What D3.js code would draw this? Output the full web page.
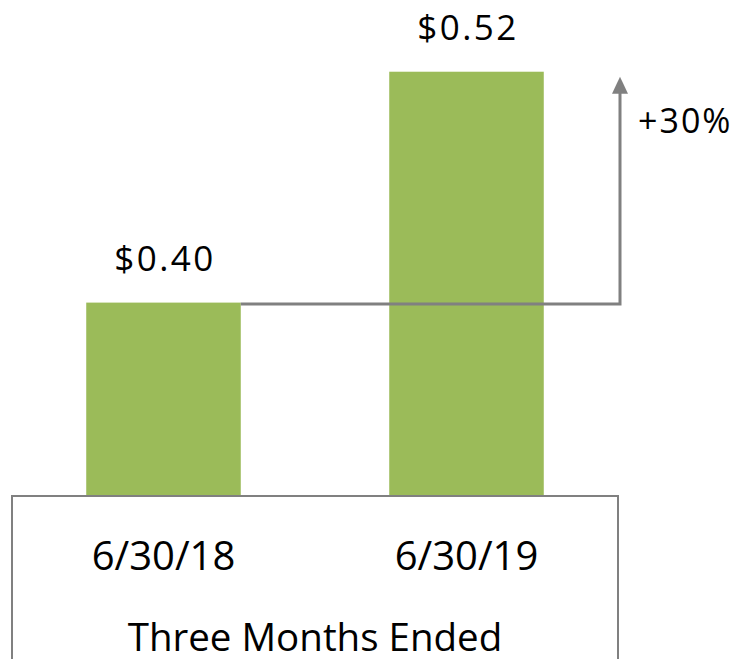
<!DOCTYPE html>
<html>
<head>
<meta charset="utf-8">
<script src="https://cdn.jsdelivr.net/npm/d3@7"></script>
<style>
  html, body { margin: 0; padding: 0; background: #fff; }
  svg { display: block; font-family: "Open Sans", sans-serif; }
</style>
</head>
<body>
<script>
'use strict';

// data
const categories = ['6/30/18', '6/30/19'];
const values = [0.40, 0.52];
const valueLabels = ['$0.40', '$0.52'];
const changeLabel = '+30%';
const axisTitle = 'Three Months Ended';

const width = 735, height = 659;
const barColor = '#9bbb59';
const lineColor = '#808080';

const svg = d3.select('body').append('svg')
  .attr('width', width)
  .attr('height', height);

// box of the category axis goes from 12 to 618
const x = d3.scaleBand()
  .domain(categories)
  .range([12, 618])
  .paddingInner(0.49)
  .paddingOuter(0.245);

// value axis does not start at zero
const y = d3.scaleLinear()
  .domain([0.30, 0.55])
  .range([495, 14]);

// bars
svg.append('g').selectAll('rect')
  .data(values)
  .enter()
  .append('rect')
  .attr('x', (d, i) => x(categories[i]))
  .attr('y', d => y(d))
  .attr('width', x.bandwidth())
  .attr('height', d => y.range()[0] - y(d))
  .attr('fill', barColor);

// value labels
svg.append('g').selectAll('text')
  .data(values)
  .enter()
  .append('text')
  .attr('x', (d, i) => x(categories[i]) + x.bandwidth() / 2 + 1.5)
  .attr('y', d => y(d) - 32)
  .attr('text-anchor', 'middle')
  .attr('font-size', 35)
  .attr('letter-spacing', 2.5)
  .attr('fill', '#000')
  .text((d, i) => valueLabels[i]);

// category axis box
const boxTop = y.range()[0] + 1;
const [bx0, bx1] = x.range();
svg.append('path')
  .attr('d', `M${bx0},${height}V${boxTop}H${bx1}V${height}`)
  .attr('fill', 'none')
  .attr('stroke', lineColor)
  .attr('stroke-width', 2);

svg.append('g').selectAll('text')
  .data(categories)
  .enter()
  .append('text')
  .attr('x', d => x(d) + x.bandwidth() / 2)
  .attr('y', 570)
  .attr('text-anchor', 'middle')
  .attr('font-size', 40)
  .text(d => d);

svg.append('text')
  .attr('x', (bx0 + bx1) / 2)
  .attr('y', 651)
  .attr('text-anchor', 'middle')
  .attr('font-size', 38.5)
  .text(axisTitle);

// growth arrow: from top of first bar across to the right, then up
const arrowX = 620;
const fromY = y(values[0]) + 1.5;
const tipY = y(values[1]) + 5;
const headH = 17;

svg.append('path')
  .attr('d', `M${x(categories[0]) + x.bandwidth()},${fromY}H${arrowX}V${tipY + headH - 1}`)
  .attr('fill', 'none')
  .attr('stroke', lineColor)
  .attr('stroke-width', 3);

svg.append('path')
  .attr('d', `M${arrowX},${tipY}L${arrowX + 8},${tipY + headH}L${arrowX - 8},${tipY + headH}Z`)
  .attr('fill', lineColor);

svg.append('text')
  .attr('x', 638)
  .attr('y', 133)
  .attr('font-size', 34)
  .attr('letter-spacing', 2)
  .text(changeLabel);
</script>
</body>
</html>
